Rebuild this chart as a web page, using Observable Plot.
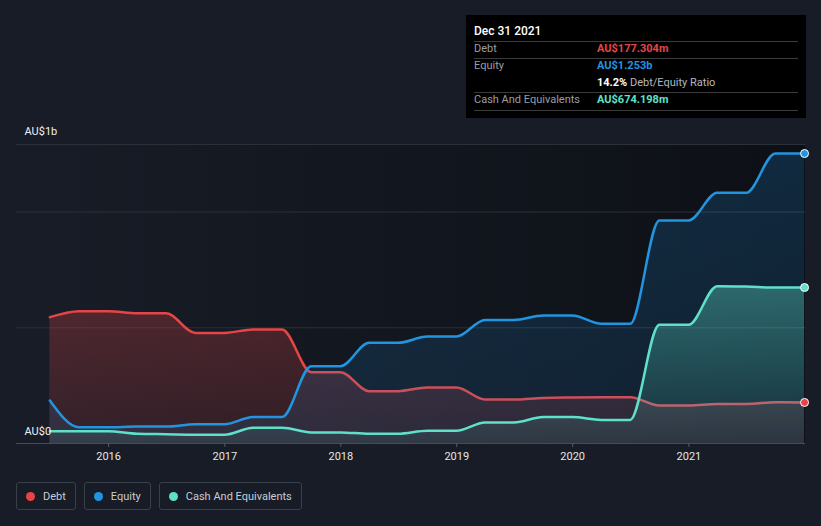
<!DOCTYPE html>
<html>
<head>
<meta charset="utf-8">
<script src="https://cdn.jsdelivr.net/npm/d3@7"></script>
<script src="https://cdn.jsdelivr.net/npm/@observablehq/plot@0.6"></script>
<style>
  html, body { margin: 0; padding: 0; background: #171c26; }
  #wrap { position: relative; width: 821px; height: 526px; background: #171c26; overflow: hidden; font-family: Roboto, "Noto Sans", sans-serif; }
  #chart { position: absolute; left: 0; top: 0; }
  #tip { position: absolute; left: 466px; top: 15px; width: 340px; height: 103px; background: #000; color: #fff; }
  #tip .t { position: absolute; font-size: 11px; line-height: 14px; white-space: nowrap; }
  #tip .sep { position: absolute; left: 8px; width: 324px; height: 1px; background: #3b3b3b; }
  #legend { position: absolute; left: 16px; top: 482px; display: flex; gap: 8px; }
  #legend .item { box-sizing: border-box; height: 28px; border: 1px solid #3a404a; border-radius: 3px; display: flex; align-items: center; padding: 0 9px 0 9px; color: #c9ccd1; font-size: 11px; }
  #legend .dot { width: 9px; height: 9px; border-radius: 50%; margin-right: 8px; }
</style>
</head>
<body>
<div id="wrap">
  <div id="chart"></div>
  <div id="tip"></div>
  <div id="legend"></div>
</div>
<script>
// ---- data (AU$ billions) ----
const dates = ["2015-06-30","2015-09-30","2015-12-31","2016-03-31","2016-06-30","2016-09-30","2016-12-31",
  "2017-03-31","2017-06-30","2017-09-30","2017-12-31","2018-03-31","2018-06-30","2018-09-30","2018-12-31",
  "2019-03-31","2019-06-30","2019-09-30","2019-12-31","2020-03-31","2020-06-30","2020-09-30","2020-12-31",
  "2021-03-31","2021-06-30","2021-09-30","2021-12-31"];
const debt = [0.546,0.572,0.572,0.563,0.563,0.478,0.478,0.493,0.493,0.308,0.308,0.226,0.226,0.242,0.242,
  0.190,0.190,0.197,0.199,0.200,0.200,0.164,0.164,0.171,0.171,0.1785,0.1773];
const equity = [0.186,0.070,0.070,0.073,0.073,0.083,0.083,0.114,0.114,0.334,0.334,0.435,0.435,0.462,0.462,
  0.534,0.534,0.553,0.553,0.517,0.517,0.964,0.964,1.083,1.083,1.253,1.253];
const cash = [0.053,0.053,0.053,0.042,0.040,0.038,0.038,0.068,0.068,0.048,0.048,0.042,0.042,0.055,0.055,
  0.091,0.091,0.114,0.114,0.102,0.102,0.513,0.513,0.680,0.678,0.674,0.674];
const yearTicks = ["2016","2017","2018","2019","2020","2021"];
const gridValues = [0.5, 1.0];
const yLabels = ["AU$0", "AU$1b"];
const seriesNames = ["Debt", "Equity", "Cash And Equivalents"];
const seriesColors = ["#e64547", "#2394df", "#5fe0c9"];

const parse = d3.utcParse("%Y-%m-%d");
const rows = dates.map((d, i) => ({date: parse(d), debt: debt[i], equity: equity[i], cash: cash[i]}));
const xDomain = [parse("2015-03-17"), parse("2022-01-03")];
const yMax = 1.292;
const last = rows[rows.length - 1];

const plot = Plot.plot({
  width: 821, height: 526,
  marginTop: 144, marginBottom: 83, marginLeft: 16, marginRight: 16,
  style: {background: "transparent", fontFamily: "Roboto, sans-serif", fontSize: "11px", color: "#e6e6e6"},
  x: {type: "utc", domain: xDomain, axis: null},
  y: {domain: [0, yMax], axis: null},
  marks: [
    Plot.rect([0], {x1: () => rows[0].date, x2: () => xDomain[1], y1: () => 0, y2: () => yMax, fill: "url(#bgGrad)"}),
    Plot.ruleY([...gridValues, yMax], {stroke: "#2b3039", strokeWidth: 1}),
    Plot.areaY(rows, {x: "date", y: "debt", curve: "monotone-x", fill: "url(#gDebt)"}),
    Plot.lineY(rows, {x: "date", y: "debt", curve: "monotone-x", stroke: seriesColors[0], strokeWidth: 2.5}),
    Plot.areaY(rows, {x: "date", y: "equity", curve: "monotone-x", fill: "url(#gEq)"}),
    Plot.lineY(rows, {x: "date", y: "equity", curve: "monotone-x", stroke: seriesColors[1], strokeWidth: 2.5}),
    Plot.areaY(rows, {x: "date", y: "cash", curve: "monotone-x", fill: "url(#gCash)"}),
    Plot.lineY(rows, {x: "date", y: "cash", curve: "monotone-x", stroke: seriesColors[2], strokeWidth: 2.5}),
    Plot.ruleY([0], {stroke: "#474c55", strokeWidth: 1}),
    Plot.axisX({ticks: yearTicks.map(y => parse(y + "-01-01")), tickFormat: d3.utcFormat("%Y"), tickSize: 4, tickPadding: 5, stroke: "#555b64", fill: "#e6e6e6", fontSize: 11}),
    Plot.dot([last], {x: "date", y: "debt", r: 4, fill: seriesColors[0], stroke: "#fff", strokeWidth: 1}),
    Plot.dot([last], {x: "date", y: "equity", r: 4, fill: seriesColors[1], stroke: "#fff", strokeWidth: 1}),
    Plot.dot([last], {x: "date", y: "cash", r: 4, fill: seriesColors[2], stroke: "#fff", strokeWidth: 1}),
    Plot.text([yLabels[1]], {frameAnchor: "top-left", dx: 8, dy: -13, textAnchor: "start", lineAnchor: "middle", fill: "#f0f0f0", fontSize: 11}),
    Plot.text([yLabels[0]], {frameAnchor: "bottom-left", dx: 8, dy: -12, textAnchor: "start", lineAnchor: "middle", fill: "#f0f0f0", fontSize: 11})
  ]
});

// gradients
const svg = d3.select(plot);
const defs = svg.insert("defs", ":first-child");
function grad(id, color, o1, o2, horiz) {
  const g = defs.append("linearGradient").attr("id", id)
    .attr("x1", 0).attr("y1", 0).attr("x2", horiz ? 1 : 0).attr("y2", horiz ? 0 : 1);
  g.append("stop").attr("offset", "0%").attr("stop-color", color).attr("stop-opacity", o1);
  g.append("stop").attr("offset", "100%").attr("stop-color", color).attr("stop-opacity", o2);
}
grad("bgGrad", "#0b0e13", 0.0, 0.85, true);
grad("gDebt", seriesColors[0], 0.27, 0.13);
grad("gEq", "#1f8ee0", 0.2, 0.12);
grad("gCash", "#5fe0c9", 0.36, 0.08);

document.getElementById("chart").appendChild(plot);

// tooltip
const tip = document.getElementById("tip");
function t(text, x, y, color, weight, size) {
  const s = document.createElement("span");
  s.className = "t"; s.innerHTML = text;
  s.style.left = x + "px"; s.style.top = (y - 7) + "px";
  s.style.color = color; s.style.fontWeight = weight || 400;
  if (size) s.style.fontSize = size + "px";
  tip.appendChild(s);
}
function sep(y) { const d = document.createElement("div"); d.className = "sep"; d.style.top = y + "px"; tip.appendChild(d); }
t("Dec 31 2021", 8, 16, "#ffffff", 500, 12);
sep(26); sep(43); sep(77); sep(95);
t(seriesNames[0], 8, 34, "#9a9ea5");
t("AU$177.304m", 131, 34, seriesColors[0], 700);
t(seriesNames[1], 8, 51, "#9a9ea5");
t("AU$1.253b", 131, 51, seriesColors[1], 700);
t('<b style="color:#fff">14.2%</b> <span style="color:#b5b8bd">Debt/Equity Ratio</span>', 131, 68, "#fff", 400);
t(seriesNames[2], 8, 85, "#9a9ea5");
t("AU$674.198m", 131, 85, seriesColors[2], 700);

// legend
const legend = document.getElementById("legend");
seriesNames.forEach((n, i) => {
  const it = document.createElement("div"); it.className = "item";
  it.innerHTML = `<span class="dot" style="background:${seriesColors[i]}"></span><span>${n}</span>`;
  legend.appendChild(it);
});
</script>
</body>
</html>
